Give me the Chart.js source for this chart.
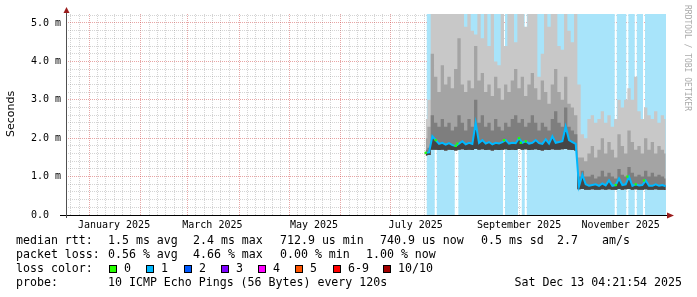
<!DOCTYPE html>
<html>
<head>
<meta charset="utf-8">
<script src="https://cdn.jsdelivr.net/npm/chart.js@4.4.1/dist/chart.umd.min.js"></script>
<style>
  html, body { margin: 0; padding: 0; background: #fff; }
</style>
</head>
<body>
<canvas id="chart" width="697" height="297"></canvas>
<script>
// days are counted from 1 Jan 2025; the graph covers the 360 days up to Sat 13 Dec 2025 04:21:54
const viewStart = -13.82;
const viewEnd = 346.18;
const yMax = 5.234; // ms at the top edge of the plot

const labelDays = [15, 74, 135, 196, 258, 319];
const labelTexts = ['January 2025', 'March 2025', 'May 2025', 'July 2025', 'September 2025', 'November 2025'];
const yTickValues = [0, 1, 2, 3, 4, 5];
const yTickTexts = ['0.0  ', '1.0 m', '2.0 m', '3.0 m', '4.0 m', '5.0 m'];

// one sample every 2 days starting on day 202
const firstDay = 202;
const stepDays = 2;
const medianMs = [
  1.62, 1.63, 2.05, 1.95, 1.85, 1.88, 1.83, 1.87, 1.82, 1.80,
  1.86, 1.92, 1.84, 1.88, 1.85, 2.40, 1.88, 1.95, 1.86, 1.90,
  1.84, 1.88, 1.86, 1.90, 1.95, 1.86, 1.88, 1.87, 2.00, 1.88,
  1.92, 1.86, 1.88, 1.95, 1.87, 1.85, 1.97, 1.86, 2.05, 1.88,
  1.90, 1.92, 2.30, 1.95, 1.90, 1.85, 0.75, 1.05, 0.80, 0.76,
  0.78, 0.80, 0.76, 0.82, 0.77, 0.90, 0.76, 0.78, 0.95, 0.78,
  0.80, 1.00, 0.76, 0.80, 0.77, 0.78, 0.90, 0.76, 0.76, 0.80,
  0.76, 0.78, 0.75
];
const smokeMin = [
  1.55, 1.56, 1.70, 1.70, 1.69, 1.70, 1.68, 1.70, 1.69, 1.68,
  1.70, 1.71, 1.69, 1.70, 1.69, 1.72, 1.70, 1.71, 1.69, 1.70,
  1.68, 1.70, 1.69, 1.70, 1.71, 1.69, 1.70, 1.69, 1.72, 1.70,
  1.71, 1.69, 1.70, 1.71, 1.69, 1.68, 1.70, 1.69, 1.71, 1.70,
  1.70, 1.71, 1.72, 1.70, 1.69, 1.68, 0.67, 0.68, 0.66, 0.66,
  0.67, 0.66, 0.66, 0.67, 0.66, 0.67, 0.66, 0.66, 0.68, 0.66,
  0.67, 0.68, 0.66, 0.67, 0.66, 0.66, 0.67, 0.66, 0.66, 0.67,
  0.66, 0.66, 0.65
];
const smokeP6 = [
  1.70, 1.75, 2.60, 2.40, 2.30, 2.50, 2.30, 2.40, 2.20, 2.30,
  2.60, 2.40, 2.20, 2.50, 2.30, 3.00, 2.40, 2.60, 2.30, 2.40,
  2.20, 2.50, 2.30, 2.20, 2.40, 2.30, 2.50, 2.60, 2.40, 2.50,
  2.30, 2.40, 2.60, 2.40, 2.20, 2.40, 2.30, 2.20, 2.50, 2.70,
  2.40, 2.30, 2.80, 2.30, 2.20, 2.10, 1.00, 1.15, 1.00, 1.00,
  1.05, 0.95, 1.00, 1.15, 1.00, 1.10, 1.00, 0.95, 1.20, 1.05,
  1.00, 1.25, 1.10, 1.00, 1.05, 1.00, 1.15, 1.00, 1.10, 1.00,
  1.05, 1.00, 0.95
];
const smokeP8 = [
  2.00, 2.30, 4.20, 3.60, 3.20, 3.90, 3.40, 3.60, 3.30, 3.80,
  4.60, 3.40, 3.20, 3.50, 3.30, 4.40, 3.50, 3.70, 3.20, 3.40,
  3.10, 3.60, 3.30, 3.00, 3.40, 3.20, 3.50, 3.80, 3.30, 3.60,
  3.10, 3.40, 3.70, 3.30, 3.00, 3.50, 3.20, 2.90, 3.40, 3.80,
  3.20, 3.00, 3.60, 2.90, 2.80, 2.60, 1.50, 1.50, 1.40, 1.60,
  1.80, 1.50, 1.70, 2.00, 1.60, 1.90, 1.70, 1.50, 2.10, 1.80,
  1.60, 2.20, 1.90, 1.70, 1.80, 1.60, 2.00, 1.70, 1.90, 1.60,
  1.80, 1.70, 1.60
];
const smokeMax = [
  2.50, 3.00, 5.30, 5.30, 5.30, 5.30, 5.30, 5.30, 5.30, 5.30,
  5.30, 5.30, 4.90, 5.30, 4.80, 4.70, 5.30, 4.60, 5.30, 4.40,
  5.30, 4.00, 3.90, 5.30, 4.40, 5.30, 5.30, 4.50, 5.30, 5.30,
  4.90, 5.30, 5.30, 5.30, 3.60, 4.20, 5.30, 4.90, 5.30, 5.30,
  4.40, 4.30, 5.30, 4.80, 4.50, 5.30, 3.40, 2.10, 2.00, 2.50,
  2.60, 2.40, 2.50, 2.70, 2.40, 2.60, 2.30, 2.50, 3.00, 2.80,
  3.00, 3.30, 3.00, 3.60, 2.70, 2.50, 2.80, 2.60, 2.50, 2.70,
  2.40, 2.60, 2.50
];

// loss shading covers the sampled period except the days without any loss
const lossStart = 201.5;
const lossEnd = 346.18;
const lossFreeDays = [202, 208, 220, 221, 249, 258, 259, 262, 316, 323, 328, 333];

const lossColors = ['#26ff00', '#00b8ff', '#0059ff', '#7e00ff', '#ff00ff', '#ff5500', '#ff0000', '#a10000'];
const lossLabels = ['0', '1', '2', '3', '4', '5', '6-9', '10/10'];

const MAJOR = 'rgba(200, 40, 40, 0.42)';
const MINOR = 'rgba(120, 120, 120, 0.32)';
const MONO = '"DejaVu Sans Mono", monospace';

// grid: days 1, 6, 11, 16, 21, 26 of every month, red on the 1st
const DAY = 86400000;
const jan1 = Date.UTC(2025, 0, 1);
const gridDays = [];
const xGridColors = [];
for (let m = -1; m <= 11; m++) {
  for (const dom of [1, 6, 11, 16, 21, 26]) {
    const d = (Date.UTC(2025, m, dom) - jan1) / DAY;
    if (d > viewStart && d < viewEnd) {
      gridDays.push(d);
      xGridColors.push(dom === 1 ? MAJOR : MINOR);
    }
  }
}
const yGridValues = [];
for (let i = 0; i <= 26; i++) yGridValues.push(Math.round(i * 2) / 10);
const yGridColors = yGridValues.map(v => Number.isInteger(v) ? MAJOR : MINOR);

function series(values) {
  return values.map((v, i) => ({ x: firstDay + i * stepDays, y: v }));
}

const bgPoints = [];
let segStart = lossStart;
lossFreeDays.forEach(d => {
  if (d - 0.5 > segStart) {
    bgPoints.push({ x: segStart, y: yMax }, { x: d - 0.5, y: yMax }, { x: d, y: null });
  }
  segStart = d + 0.5;
});
bgPoints.push({ x: segStart, y: yMax }, { x: lossEnd, y: yMax });

const greenPoints = lossFreeDays.map(d => ({
  x: d,
  y: medianMs[Math.min(medianMs.length - 1, Math.round((d - firstDay) / stepDays))]
}));

// smoke layers all fill down to the smokeMin dataset (index 5)
const smokeBase = { borderWidth: 0, borderColor: 'rgba(0,0,0,0)', pointRadius: 0, stepped: 'middle', fill: 5 };

const decorations = {
  id: 'decorations',
  afterDraw(chart) {
    const ctx = chart.ctx;
    const a = chart.chartArea;
    ctx.save();

    // axes
    ctx.lineWidth = 1;
    ctx.strokeStyle = '#000';
    ctx.beginPath();
    ctx.moveTo(a.left - 6, a.bottom + 0.5);
    ctx.lineTo(a.right + 2, a.bottom + 0.5);
    ctx.stroke();
    ctx.strokeStyle = '#505050';
    ctx.beginPath();
    ctx.moveTo(a.left + 0.5, a.bottom + 3);
    ctx.lineTo(a.left + 0.5, a.top - 2);
    ctx.stroke();

    // arrows
    ctx.fillStyle = '#9b1c1c';
    ctx.beginPath();
    ctx.moveTo(a.left + 0.5, a.top - 7);
    ctx.lineTo(a.left - 2.5, a.top - 1);
    ctx.lineTo(a.left + 3.5, a.top - 1);
    ctx.closePath();
    ctx.fill();
    ctx.beginPath();
    ctx.moveTo(a.right + 8, a.bottom + 0.5);
    ctx.lineTo(a.right + 1, a.bottom - 2.5);
    ctx.lineTo(a.right + 1, a.bottom + 3.5);
    ctx.closePath();
    ctx.fill();

    // y title
    ctx.fillStyle = '#000';
    ctx.font = '11px "DejaVu Sans", sans-serif';
    ctx.textAlign = 'center';
    ctx.textBaseline = 'middle';
    ctx.save();
    ctx.translate(11, 114);
    ctx.rotate(-Math.PI / 2);
    ctx.fillText('Seconds', 0, 0);
    ctx.restore();

    // watermark
    ctx.save();
    ctx.translate(687, 5);
    ctx.rotate(Math.PI / 2);
    ctx.font = '8px ' + MONO;
    ctx.fillStyle = '#aaaaaa';
    ctx.textAlign = 'left';
    ctx.fillText('RRDTOOL / TOBI OETIKER', 0, 0);
    ctx.restore();

    // legend
    ctx.font = '11.6px ' + MONO;
    ctx.textAlign = 'left';
    ctx.textBaseline = 'middle';
    ctx.fillStyle = '#000';
    const rows = [
      [241, [[16, 'median rtt:'], [108, '1.5 ms avg'], [193, '2.4 ms max'], [280, '712.9 us min'],
             [380, '740.9 us now'], [481, '0.5 ms sd'], [557, '2.7'], [602, 'am/s']]],
      [255, [[16, 'packet loss:'], [108, '0.56 % avg'], [193, '4.66 % max'], [280, '0.00 % min'],
             [366, '1.00 % now']]],
      [269, [[16, 'loss color:']]],
      [283, [[16, 'probe:'], [108, '10 ICMP Echo Pings (56 Bytes) every 120s']]]
    ];
    rows.forEach(([y, parts]) => parts.forEach(([x, t]) => ctx.fillText(t, x, y)));
    ctx.textAlign = 'right';
    ctx.fillText('Sat Dec 13 04:21:54 2025', 682, 283);
    ctx.textAlign = 'left';

    const boxX = [109, 146, 184, 221, 258, 295, 333, 383];
    lossColors.forEach((c, i) => {
      ctx.fillStyle = c;
      ctx.fillRect(boxX[i], 265, 8, 8);
      ctx.strokeStyle = '#000';
      ctx.strokeRect(boxX[i] + 0.5, 265.5, 7, 7);
      ctx.fillStyle = '#000';
      ctx.fillText(lossLabels[i], boxX[i] + 15, 269);
    });

    ctx.restore();
  }
};

new Chart(document.getElementById('chart'), {
  type: 'line',
  data: {
    datasets: [
      { data: greenPoints, showLine: false, pointStyle: 'rect', pointRadius: 1.6,
        pointBackgroundColor: lossColors[0], pointBorderWidth: 0 },
      // median line, the darkest smoke sits between it and the lowest ping
      { data: series(medianMs), borderColor: '#00b8ff', borderWidth: 2, pointRadius: 0,
        backgroundColor: '#454545', fill: 5 },
      Object.assign({ data: series(smokeP6), backgroundColor: '#7e7e7e' }, smokeBase),
      Object.assign({ data: series(smokeP8), backgroundColor: '#a4a4a4' }, smokeBase),
      Object.assign({ data: series(smokeMax), backgroundColor: '#c8c8c8' }, smokeBase),
      { data: series(smokeMin), borderWidth: 0, borderColor: 'rgba(0,0,0,0)', pointRadius: 0,
        stepped: 'middle', fill: false },
      { data: bgPoints, borderWidth: 0, borderColor: 'rgba(0,0,0,0)', pointRadius: 0,
        backgroundColor: '#a8e4fa', fill: 'origin', spanGaps: false }
    ]
  },
  options: {
    responsive: false,
    animation: false,
    devicePixelRatio: 1,
    layout: { padding: { top: 14, right: 31, left: 0, bottom: 0 } },
    plugins: { legend: { display: false }, tooltip: { enabled: false } },
    scales: {
      x: {
        type: 'linear',
        min: viewStart,
        max: viewEnd,
        z: 1,
        afterFit(s) { s.height = 82; },
        afterBuildTicks(s) { s.ticks = gridDays.map(v => ({ value: v })); },
        ticks: {
          autoSkip: false,
          maxRotation: 0,
          padding: 4,
          color: '#000',
          font: { family: MONO, size: 10 },
          callback(v) {
            const i = labelDays.indexOf(v);
            return i >= 0 ? labelTexts[i] : '';
          }
        },
        grid: {
          drawTicks: false,
          color: c => xGridColors[c.index]
        },
        border: { display: false, dash: [1, 1] }
      },
      y: {
        min: 0,
        max: yMax,
        z: 1,
        afterFit(s) { s.width = 66; },
        afterBuildTicks(s) { s.ticks = yGridValues.map(v => ({ value: v })); },
        ticks: {
          autoSkip: false,
          padding: 5,
          color: '#000',
          font: { family: MONO, size: 10 },
          callback(v) {
            const i = yTickValues.indexOf(v);
            return i >= 0 ? yTickTexts[i] : '';
          }
        },
        grid: {
          drawTicks: false,
          color: c => yGridColors[c.index]
        },
        border: { display: false, dash: [1, 1] }
      }
    }
  },
  plugins: [decorations]
});
</script>
</body>
</html>
